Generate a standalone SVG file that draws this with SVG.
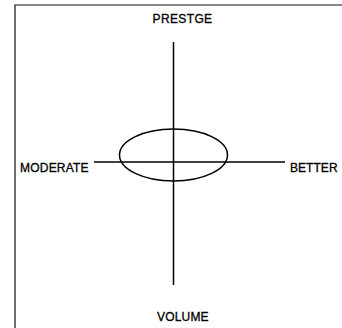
<svg xmlns="http://www.w3.org/2000/svg" width="342" height="328" viewBox="0 0 342 328">
<style>
.lbl{font-family:"Liberation Sans",Arial,sans-serif;font-size:12px;fill:#000;stroke:#000;stroke-width:0.3;letter-spacing:-0.6px}
.ax{stroke:#000;stroke-width:1.5;fill:none}
.fr{stroke:#111;stroke-width:1.2;fill:none}
</style>
<rect width="342" height="328" fill="#fff"/>
<g id="frame"><path class="fr" d="M15,328 V5 H342"/></g>
<g id="connectors">
<line class="ax" x1="173.5" y1="42" x2="173.5" y2="285"/>
<line class="ax" x1="94" y1="162" x2="285" y2="162"/>
</g>
<g id="ellipse"><ellipse class="ax" cx="173.5" cy="155" rx="54" ry="26"/></g>
<g id="prestige"><text class="lbl" x="182" y="23" text-anchor="middle" textLength="59">PRESTGE</text></g>
<g id="moderate"><text class="lbl" x="20" y="172" textLength="68">MODERATE</text></g>
<g id="better"><text class="lbl" x="290" y="172" textLength="47">BETTER</text></g>
<g id="volume"><text class="lbl" x="182.5" y="321" text-anchor="middle" textLength="51">VOLUME</text></g>
</svg>
